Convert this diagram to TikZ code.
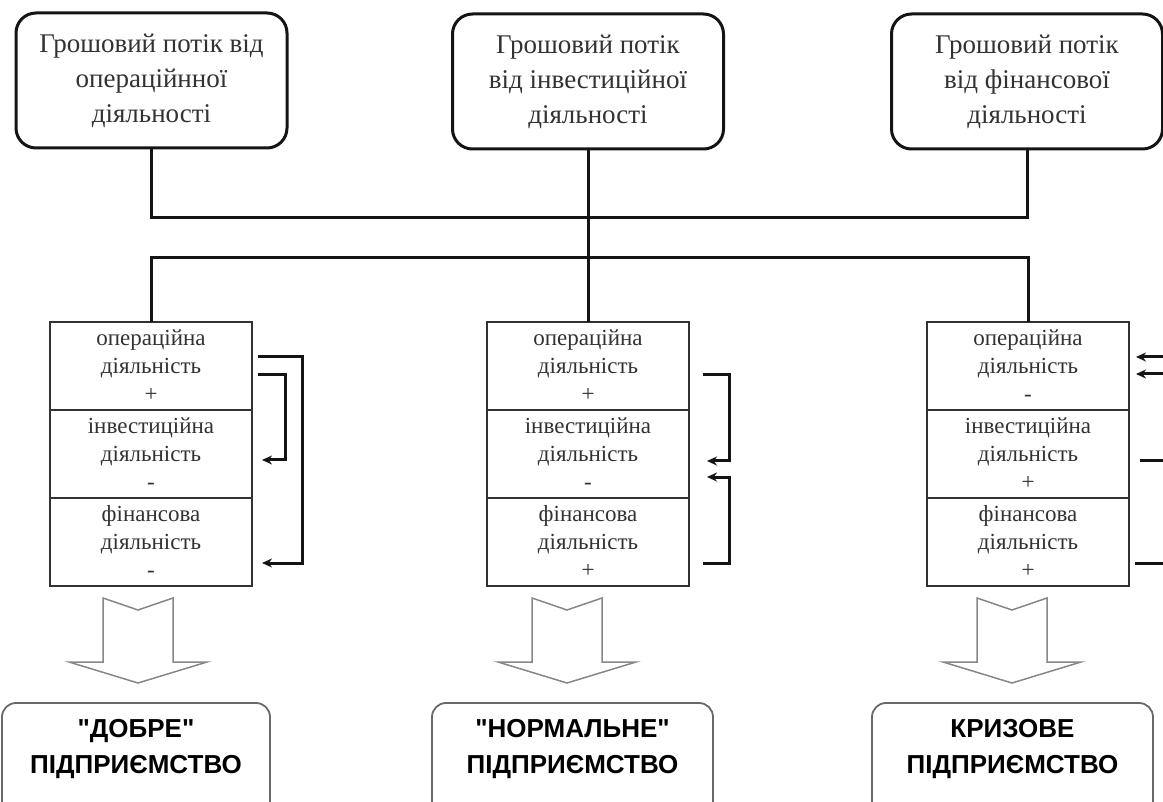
\documentclass[tikz,border=0pt]{standalone}
\usepackage{fontspec}
\setmainfont{Liberation Serif}
\newfontfamily\capsfont{Liberation Sans}
\usetikzlibrary{positioning,arrows.meta}
\definecolor{flowblack}{RGB}{20,20,20}
\definecolor{rowgray}{RGB}{50,50,50}
\definecolor{arrowgray}{RGB}{135,135,135}
\definecolor{resgray}{RGB}{105,105,105}

\begin{document}
\begin{tikzpicture}[x=1pt,y=-1pt,
    flowbox/.style={draw=flowblack, line width=3pt, rounded corners=20pt, minimum width=271pt, minimum height=135pt, align=center, text=rowgray, font=\fontsize{27}{35}\selectfont},
    rowbox/.style={draw=rowgray, line width=1.6pt, minimum width=202pt, minimum height=88pt, outer sep=0pt, align=center, text=rowgray, font=\fontsize{23}{28}\selectfont},
    resbox/.style={draw=resgray, line width=1.8pt, rounded corners=14pt, minimum height=112pt, align=center, text depth=26pt, font=\capsfont\bfseries\fontsize{26}{36}\selectfont},
    bus/.style={draw=flowblack, line width=3pt},
    bracket/.style={draw=flowblack, line width=3pt, -{Stealth[length=10pt,width=9pt]}},
    blockarrow/.style={draw=arrowgray, line width=1.5pt, fill=white}]
    \useasboundingbox (0,0) rectangle (1163,802);
    \clip (0,0) rectangle (1163,802);

    % Cash flows
    \node[flowbox] (flowop) at (151.5,80.5) {Грошовий потік від\\операційнної\\діяльності};
    \node[flowbox] (flowinv) at (588,81.5) {Грошовий потік\\від інвестиційної\\діяльності};
    \node[flowbox] (flowfin) at (1027,81.5) {Грошовий потік\\від фінансової\\діяльності};

    % Combinations of activities
    \node[rowbox] (goodop) at (151,366) {операційна\\діяльність\\+};
    \node[rowbox, below=0pt of goodop] (goodinv) {інвестиційна\\діяльність\\-};
    \node[rowbox, below=0pt of goodinv] (goodfin) {фінансова\\діяльність\\-};

    \node[rowbox] (normalop) at (588,366) {операційна\\діяльність\\+};
    \node[rowbox, below=0pt of normalop] (normalinv) {інвестиційна\\діяльність\\-};
    \node[rowbox, below=0pt of normalinv] (normalfin) {фінансова\\діяльність\\+};

    \node[rowbox] (crisisop) at (1028,366) {операційна\\діяльність\\-};
    \node[rowbox, below=0pt of crisisop] (crisisinv) {інвестиційна\\діяльність\\+};
    \node[rowbox, below=0pt of crisisinv] (crisisfin) {фінансова\\діяльність\\+};

    % Results
    \node[resbox, minimum width=268pt] (goodres) at (136,759) {"ДОБРЕ"\\ПІДПРИЄМСТВО};
    \node[resbox, minimum width=281pt] (normalres) at (572.5,759) {"НОРМАЛЬНЕ"\\ПІДПРИЄМСТВО};
    \node[resbox, minimum width=281pt] (crisisres) at (1012.5,759) {КРИЗОВЕ\\ПІДПРИЄМСТВО};

    % Connections
    \coordinate (busup) at (588,218);
    \coordinate (busdown) at (588,258);
    \draw[bus] (flowop) |- (busup) -| (flowfin);
    \draw[bus] (flowinv) -- (normalop);
    \draw[bus] (goodop) |- (busdown) -| (crisisop);

    % Covering of flows
    \draw[bracket] ([shift={(6,-9)}]goodop.east) -- ++(44,0) |- ([shift={(10,21)}]goodfin.east);
    \draw[bracket] ([shift={(6,9)}]goodop.east) -- ++(27,0) |- ([shift={(10,6)}]goodinv.east);
    \draw[bracket] ([shift={(14,9)}]normalop.east) -- ++(26,0) |- ([shift={(18,7)}]normalinv.east);
    \draw[bracket] ([shift={(14,21)}]normalfin.east) -- ++(26,0) |- ([shift={(18,23)}]normalinv.east);
    \draw[bracket] ([shift={(6,21)}]crisisfin.east) -- ++(55,0) |- ([shift={(7,-9)}]crisisop.east);
    \draw[bracket] ([shift={(11,7)}]crisisinv.east) -- ++(35,0) |- ([shift={(7,8)}]crisisop.east);

    % Block arrows
    \foreach \cx in {138,567,1012}
        \draw[blockarrow] ({\cx-35},598) -- (\cx,610) -- ({\cx+35},598) -- ({\cx+35},662)
            -- ({\cx+69},662) -- (\cx,683) -- ({\cx-69},662) -- ({\cx-35},662) -- cycle;
\end{tikzpicture}
\end{document}
